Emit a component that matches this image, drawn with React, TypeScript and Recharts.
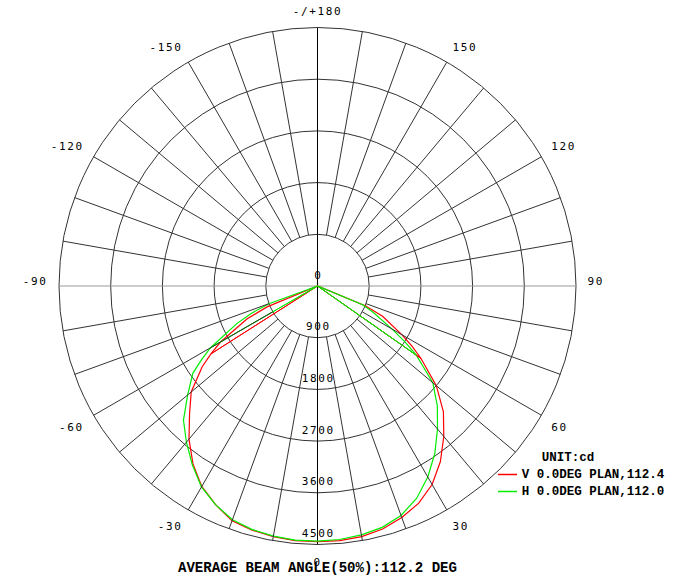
import React from "react";
import {
  RadarChart,
  Radar,
  PolarGrid,
  PolarAngleAxis,
  PolarRadiusAxis,
  Legend,
} from "recharts";

// gamma angles of the measured points (deg), 0 = straight down
const angles = [
  -90, -75, -70, -67.5, -65, -60, -57.5, -55, -50, -45, -40, -35, -30, -25, -20,
  -15, -10, -5, 0, 5, 10, 15, 20, 25, 30, 35, 40, 45, 50, 55, 57.5, 60, 65, 67.5,
  70, 75, 90,
];
// C0 (V) plane, cd
const vPlane = [
  0, 0, 0, 950, 1350, 1950, 2200, 2450, 2870, 3150, 3480, 3780, 4030, 4200, 4350,
  4400, 4430, 4450, 4450, 4450, 4430, 4380, 4290, 4170, 3990, 3730, 3420, 3100,
  2700, 2200, 1950, 1700, 1250, 900, 0, 0, 0,
];
// C90 (H) plane, cd
const hPlane = [
  0, 0, 900, 1250, 1550, 2150, 2400, 2650, 2950, 3300, 3550, 3800, 4040, 4200,
  4330, 4390, 4420, 4440, 4440, 4430, 4400, 4350, 4250, 4080, 3840, 3560, 3250,
  2950, 2620, 2100, 1800, 1500, 1050, 850, 0, 0, 0,
];
// straight strokes back to the centre drawn by the photometer software
const vChord = [
  null, null, null, null, null, 0, 2200, null, null, null, null, null, null, null,
  null, null, null, null, null, null, null, null, null, null, null, null, null,
  null, null, 2200, 0, null, null, null, null, null, null,
];
const hChord = [
  null, null, null, null, 0, 2150, null, null, null, null, null, null, null, null,
  null, null, null, null, null, null, null, null, null, null, null, null, null,
  null, null, 2100, 0, null, null, null, null, null, null,
];

const angleTicks = [
  -170, -160, -150, -140, -130, -120, -110, -100, -90, -80, -70, -60, -50, -40,
  -30, -20, -10, 0, 10, 20, 30, 40, 50, 60, 70, 80, 90, 100, 110, 120, 130, 140,
  150, 160, 170, 180,
];
const labelledAngles = [-150, -120, -90, -60, -30, 0, 30, 60, 90, 120, 150, 180];
const radiusTicks = [0, 900, 1800, 2700, 3600, 4500];

const seriesNames = ["V 0.0DEG PLAN,112.4", "H 0.0DEG PLAN,112.0"];
const seriesColors = ["#ff0000", "#00ee00"];
const title = "AVERAGE BEAM ANGLE(50%):112.2 DEG";

const data = angles.map((a, i) => ({
  angle: a,
  v: vPlane[i],
  h: hPlane[i],
  vc: vChord[i],
  hc: hChord[i],
}));

const CX = 317.5;
const CY = 286;
const R = 258.5;
const LABEL_FONT = "'DejaVu Sans Mono', monospace";
const MONO_BOLD = "'Liberation Mono', 'Courier New', monospace";

const AngleTick = (props: any) => {
  const { payload } = props;
  const value = payload.value;
  const rad = (-payload.coordinate * Math.PI) / 180;
  const cos = Math.cos(rad);
  const sin = Math.sin(rad);
  const r0 = (R * radiusTicks[1]) / radiusTicks[radiusTicks.length - 1];
  const spoke = value % 90 !== 0;
  const lr = R + 11.5;
  const lx = CX + cos * lr;
  const ly = CY + sin * lr;
  const anchor = Math.abs(lx - CX) < 1 ? "middle" : lx > CX ? "start" : "end";
  const showLabel = labelledAngles.includes(value);
  return (
    <g>
      {spoke && (
        <line
          x1={CX + cos * r0}
          y1={CY + sin * r0}
          x2={CX + cos * R}
          y2={CY + sin * R}
          stroke="#333"
          strokeWidth={1}
        />
      )}
      {showLabel && (
        <text
          x={lx}
          y={ly <= CY + 0.5 ? ly - 1 : ly + 10}
          textAnchor={anchor}
          fontFamily={LABEL_FONT}
          fontSize={11}
          letterSpacing={1.6}
          fill="#000"
        >
          {value === 180 ? "-/+180" : String(value)}
        </text>
      )}
    </g>
  );
};

const RadiusTick = (props: any) => {
  const { x, y, payload } = props;
  return (
    <text
      x={x + 0.8}
      y={y - 7.5}
      textAnchor="middle"
      fontFamily={LABEL_FONT}
      fontSize={11}
      letterSpacing={1.6}
      fill="#000"
    >
      {payload.value}
    </text>
  );
};

const renderLegend = () => (
  <svg width={200} height={56} style={{ display: "block" }}>
    <text
      x={45.7}
      y={13}
      fontFamily={MONO_BOLD}
      fontWeight="bold"
      fontSize={12.5}
      fill="#000"
    >
      UNIT:cd
    </text>
    {seriesNames.map((name, i) => (
      <g key={name}>
        <line
          x1={2}
          x2={21}
          y1={26.5 + i * 17}
          y2={26.5 + i * 17}
          stroke={seriesColors[i]}
          strokeWidth={1.5}
        />
        <text
          x={25.7}
          y={29.5 + i * 17}
          fontFamily={MONO_BOLD}
          fontWeight="bold"
          fontSize={12.5}
          fill="#000"
        >
          {name}
        </text>
      </g>
    ))}
  </svg>
);

export default function App() {
  return (
    <div style={{ position: "absolute", left: 0, top: 0, width: 700, height: 576, background: "#fff" }}>
      <RadarChart
        width={700}
        height={576}
        data={data}
        cx={CX}
        cy={CY}
        outerRadius={R}
        startAngle={90}
        endAngle={450}
        margin={{ top: 0, right: 0, bottom: 0, left: 0 }}
      >
        <PolarGrid gridType="circle" radialLines={false} stroke="#333" strokeWidth={1} />
        <PolarGrid gridType="circle" polarAngles={[0, 180]} polarRadius={[]} stroke="#999" />
        <PolarGrid gridType="circle" polarAngles={[90, 270]} polarRadius={[]} stroke="#000" />
        <PolarAngleAxis
          dataKey="angle"
          type="number"
          domain={[-180, 180]}
          ticks={angleTicks}
          tick={AngleTick}
          tickLine={false}
          axisLine={false}
        />
        <PolarRadiusAxis
          angle={270}
          type="number"
          domain={[0, 4500]}
          ticks={radiusTicks}
          tick={RadiusTick}
          tickLine={false}
          axisLine={false}
        />
        <Radar
          name={seriesNames[0]}
          dataKey="v"
          stroke={seriesColors[0]}
          strokeWidth={1.2}
          fill="none"
          fillOpacity={0}
          dot={false}
          isAnimationActive={false}
        />
        <Radar
          name={seriesNames[1]}
          dataKey="h"
          stroke={seriesColors[1]}
          strokeWidth={1.2}
          fill="none"
          fillOpacity={0}
          dot={false}
          isAnimationActive={false}
        />
        <Radar
          dataKey="vc"
          legendType="none"
          stroke={seriesColors[0]}
          strokeWidth={1}
          fill="none"
          fillOpacity={0}
          dot={false}
          isAnimationActive={false}
        />
        <Radar
          dataKey="hc"
          legendType="none"
          stroke={seriesColors[1]}
          strokeWidth={1}
          fill="none"
          fillOpacity={0}
          dot={false}
          isAnimationActive={false}
        />
        <Legend
          layout="vertical"
          align="center"
          verticalAlign="middle"
          content={renderLegend}
          wrapperStyle={{ left: 496, top: 448, width: 200, height: 56 }}
        />
        <text
          x={CX}
          y={572}
          textAnchor="middle"
          fontFamily={MONO_BOLD}
          fontWeight="bold"
          fontSize={14.1}
          fill="#000"
        >
          {title}
        </text>
      </RadarChart>
    </div>
  );
}
